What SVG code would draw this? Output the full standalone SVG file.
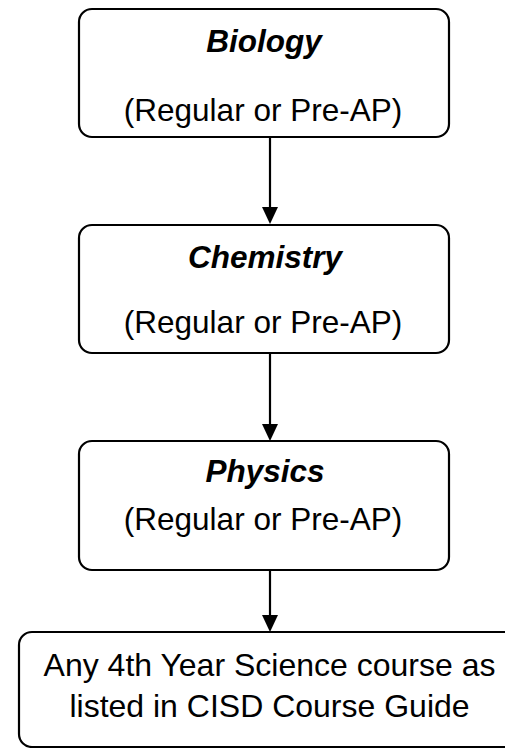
<svg xmlns="http://www.w3.org/2000/svg" width="505" height="748" viewBox="0 0 505 748">
<defs>
<style>
.box{fill:#fff;stroke:#000;stroke-width:2.2}
.t{font-family:"Liberation Sans",Arial,sans-serif;font-size:31.5px;fill:#000;text-anchor:middle}
.b{font-weight:bold;font-style:italic}
.l{font-size:32px}
.c{stroke:#000;stroke-width:2.2;fill:none}
</style>
</defs>
<rect width="505" height="748" fill="#fff"/>
<g id="connectors">
<line class="c" x1="270" y1="137" x2="270" y2="207"/>
<path d="M262,207 L278,207 L270,224 Z" fill="#000"/>
<line class="c" x1="270" y1="353" x2="270" y2="424"/>
<path d="M262,424 L278,424 L270,441 Z" fill="#000"/>
<line class="c" x1="270" y1="570" x2="270" y2="615"/>
<path d="M262,615 L278,615 L270,632 Z" fill="#000"/>
</g>
<g id="biology">
<rect class="box" x="79" y="9" width="370" height="128" rx="13"/>
<text class="t b" x="264" y="52">Biology</text>
<text class="t" x="263" y="121">(Regular or Pre-AP)</text>
</g>
<g id="chemistry">
<rect class="box" x="79" y="225" width="370" height="128" rx="13"/>
<text class="t b" x="265" y="268">Chemistry</text>
<text class="t" x="263" y="333">(Regular or Pre-AP)</text>
</g>
<g id="physics">
<rect class="box" x="79" y="441" width="370" height="129" rx="13"/>
<text class="t b" x="265" y="482">Physics</text>
<text class="t" x="263" y="530">(Regular or Pre-AP)</text>
</g>
<g id="fourth-year">
<rect class="box" x="19" y="632" width="510" height="115" rx="13"/>
<text class="t l" x="269.5" y="676">Any 4th Year Science course as</text>
<text class="t l" x="269.5" y="717">listed in CISD Course Guide</text>
</g>
</svg>
